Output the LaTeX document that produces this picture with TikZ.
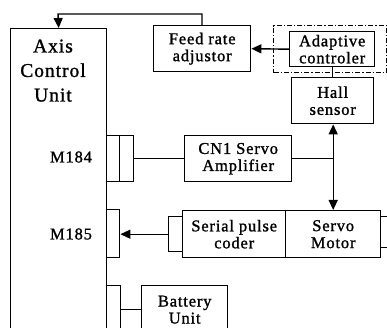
\documentclass[tikz,border=0pt]{standalone}
\usepackage{fontspec}
\setmainfont{Liberation Serif}
\newfontfamily\lblfont[LetterSpace=5,FakeBold=1.2]{Liberation Serif}
\usetikzlibrary{arrows.meta}
\tikzset{
  blk/.style={draw, line width=1.4pt, inner sep=0pt, anchor=north west},
  lbl/.style={font=\lblfont\fontsize{16.5}{17}\selectfont, align=center},
  bigl/.style={font=\lblfont\fontsize{19.5}{24.5}\selectfont, align=center},
  wire/.style={line width=1.4pt},
  tip/.tip={Triangle[length=10pt,width=9pt]},
  arr/.style={wire, -tip},
}
\begin{document}
\begin{tikzpicture}[x=1pt,y=-1pt]
\clip (0,0) rectangle (387,328);
\fill[white] (0,0) rectangle (387,328);
% Axis control unit
\node[blk, minimum width=96pt, minimum height=312pt] (acu) at (10,28) {};
\node[bigl, anchor=north] (acut) at (53,36) {Axis\\Control\\Unit};
\node[lbl] (m184t) at (71,157) {M184};
\node[lbl] (m185t) at (71,234) {M185};
% connectors on ACU
\node[blk, minimum width=13pt, minimum height=46pt] (c184a) at (106,135) {};
\node[blk, minimum width=14pt, minimum height=46pt] (c184b) at (119,135) {};
\node[blk, minimum width=13pt, minimum height=48pt] (c185) at (106,209) {};
\node[blk, minimum width=14pt, minimum height=55pt] (cbat) at (106,285) {};
% blocks
\node[blk, minimum width=97pt, minimum height=46pt, lbl] (fra) at (153,25) {Feed rate\\adjustor};
\node[draw, line width=1.4pt, dash pattern=on 5pt off 2pt on 1.2pt off 2pt, inner sep=0pt, anchor=north west, minimum width=113pt, minimum height=47pt] (adpo) at (273,25) {};
\node[blk, minimum width=85pt, minimum height=35pt, lbl] (adp) at (289,31) {Adaptive\\controler};
\node[blk, minimum width=82pt, minimum height=46pt, lbl] (hall) at (291,77) {Hall\\sensor};
\node[blk, minimum width=107pt, minimum height=46pt, lbl] (amp) at (184,135) {CN1 Servo\\Amplifier};
\node[blk, minimum width=14pt, minimum height=35pt] (cspc) at (168,216) {};
\node[blk, minimum width=103pt, minimum height=47pt, lbl] (spc) at (182,210) {Serial pulse\\coder};
\node[blk, minimum width=95pt, minimum height=47pt, lbl] (mot) at (285,210) {Servo\\Motor};
\node[blk, minimum width=15pt, minimum height=31pt] (cmot) at (380,216) {};
\node[blk, minimum width=86pt, minimum height=48pt, lbl] (bat) at (141,285) {Battery\\Unit};
% connections
\coordinate (tr) at (202,14);
\coordinate (tl) at (58,14);
\draw[arr] (fra.north -| tr) -- (tr) -- (tl) -- (acu.north);
\draw[arr] (adp.west) -- (fra.east);
\draw[wire] (adp.south) -- (adp.south |- hall.north);
\coordinate (jn) at (mot.north |- amp.east);
\draw[wire, tip-tip] (hall.south -| mot.north) -- (mot.north);
\draw[wire] (amp.east) -- (jn);
\draw[wire] (c184b.east) -- (amp.west);
\draw[arr] (cspc.west) -- (cspc.west -| c185.east);
\draw[wire] (cbat.east |- bat.west) -- (bat.west);
\end{tikzpicture}
\end{document}
